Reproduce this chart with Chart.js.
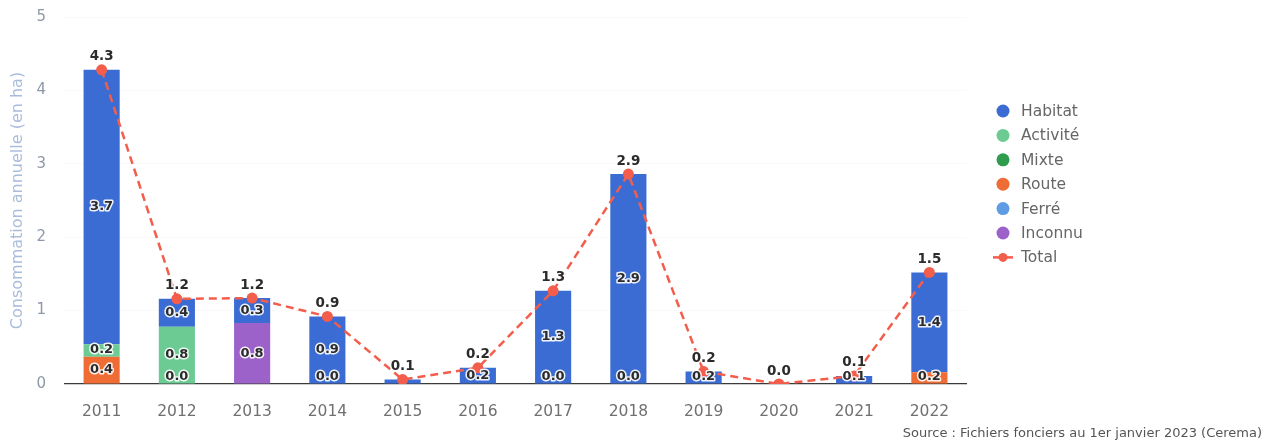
<!DOCTYPE html>
<html>
<head>
<meta charset="utf-8">
<script src="https://cdn.jsdelivr.net/npm/chart.js@4.4.0/dist/chart.umd.min.js"></script>
<style>
html,body{margin:0;padding:0;background:#fff;}
#wrap{position:relative;width:1269px;height:443px;}
</style>
</head>
<body>
<div id="wrap"><canvas id="c" width="1269" height="443"></canvas></div>
<script>
const years = ["2011","2012","2013","2014","2015","2016","2017","2018","2019","2020","2021","2022"];
const habitat  = [3.74, 0.38, 0.34, 0.92, 0.06, 0.22, 1.27, 2.86, 0.17, null, 0.11, 1.36];
const activite = [0.17, 0.78, null, null, null, null, null, null, null, null, null, null];
const mixte    = [null, null, null, null, null, null, null, null, null, null, null, null];
const route    = [0.37, 0, null, 0, null, null, 0, 0, null, null, null, 0.16];
const ferre    = [null, null, null, null, null, null, null, null, null, null, null, null];
const inconnu  = [null, null, 0.83, null, null, null, null, null, null, null, null, null];
const totals   = [4.28, 1.16, 1.17, 0.92, 0.06, 0.22, 1.27, 2.86, 0.17, 0, 0.11, 1.52];
const yTicks   = [0, 1, 2, 3, 4, 5];

const COLORS = {
  Habitat: '#3b6cd3', 'Activité': '#6ccb93', Mixte: '#2f9b4c', Route: '#ef6d35',
  'Ferré': '#5e9de4', Inconnu: '#9c62c9', Total: '#f35d4c'
};
const FONT = "'DejaVu Sans', sans-serif";

function barDs(label, data) {
  return { type: 'bar', label, data, backgroundColor: COLORS[label], stack: 's',
    categoryPercentage: 1, barPercentage: 0.48, order: 2, borderWidth: 0 };
}

const datasets = [
  barDs('Route', route),
  barDs('Inconnu', inconnu),
  barDs('Activité', activite),
  barDs('Mixte', mixte),
  barDs('Ferré', ferre),
  barDs('Habitat', habitat),
  { type: 'line', label: 'Total', data: totals, borderColor: COLORS.Total, backgroundColor: COLORS.Total,
    borderDash: [8, 5], borderWidth: 2.5, pointRadius: 5.5, pointHoverRadius: 5.5, pointBorderWidth: 0,
    tension: 0, order: 1 }
];

function outlinedText(ctx, txt, x, y, font) {
  ctx.font = font;
  ctx.textAlign = 'center';
  ctx.textBaseline = 'middle';
  ctx.lineJoin = 'round';
  ctx.lineWidth = 3;
  ctx.strokeStyle = 'rgba(255,255,255,0.9)';
  ctx.strokeText(txt, x, y);
  ctx.fillStyle = '#2b2b2b';
  ctx.fillText(txt, x, y);
}

const labelsPlugin = {
  id: 'labels',
  afterDatasetsDraw(chart) {
    const ctx = chart.ctx;
    ctx.save();
    chart.data.datasets.forEach((ds, di) => {
      const meta = chart.getDatasetMeta(di);
      if (ds.type === 'bar') {
        meta.data.forEach((el, i) => {
          const v = ds.data[i];
          if (v === null || v === undefined) return;
          if (!(v === 0 || v >= 0.1)) return;
          let cy = (el.y + el.base) / 2;
          cy = Math.min(cy, el.base - 7);
          outlinedText(ctx, v.toFixed(1), el.x, cy, "bold 13px " + FONT);
        });
      } else {
        meta.data.forEach((el, i) => {
          const v = ds.data[i];
          outlinedText(ctx, v.toFixed(1), el.x, el.y - 13, "bold 13.5px " + FONT);
        });
      }
    });
    ctx.restore();
  }
};

const legendPlugin = {
  id: 'customLegend',
  afterDraw(chart) {
    const ctx = chart.ctx;
    ctx.save();
    const items = ['Habitat', 'Activité', 'Mixte', 'Route', 'Ferré', 'Inconnu', 'Total'];
    const x0 = 1003, y0 = 111, dy = 24.4;
    items.forEach((name, k) => {
      const y = y0 + k * dy;
      ctx.fillStyle = COLORS[name];
      if (name === 'Total') {
        ctx.strokeStyle = COLORS[name];
        ctx.lineWidth = 2.5;
        ctx.beginPath(); ctx.moveTo(993, y); ctx.lineTo(1013, y); ctx.stroke();
        ctx.beginPath(); ctx.arc(x0, y, 4.5, 0, Math.PI * 2); ctx.fill();
      } else {
        ctx.beginPath(); ctx.arc(x0, y, 6.5, 0, Math.PI * 2); ctx.fill();
      }
      ctx.fillStyle = '#666';
      ctx.font = "15.5px " + FONT;
      ctx.textAlign = 'left';
      ctx.textBaseline = 'middle';
      ctx.fillText(name, 1021, y + 1);
    });
    ctx.font = "13px " + FONT;
    ctx.fillStyle = '#555';
    ctx.textAlign = 'right';
    ctx.textBaseline = 'middle';
    ctx.fillText('Source : Fichiers fonciers au 1er janvier 2023 (Cerema)', 1262, 434);
    ctx.restore();
  }
};

new Chart(document.getElementById('c'), {
  data: { labels: years, datasets },
  options: {
    responsive: false,
    animation: false,
    events: [],
    layout: { padding: { top: 17, right: 302, left: 0, bottom: 0 } },
    plugins: { legend: { display: false }, tooltip: { enabled: false } },
    scales: {
      x: {
        stacked: true,
        grid: { display: false, drawTicks: false },
        border: { display: false },
        ticks: { color: '#707070', font: { family: FONT, size: 15.5 }, padding: 19 },
        afterFit(s) { s.height = 59; s.paddingLeft = 0; s.paddingRight = 0; }
      },
      y: {
        stacked: true,
        min: 0, max: 5,
        afterBuildTicks(s) { s.ticks = yTicks.map(v => ({ value: v })); },
        grid: {
          drawTicks: false,
          color: c => c.tick && c.tick.value === 0 ? '#3a3a3a' : 'rgba(0,0,0,0.025)',
          lineWidth: c => c.tick && c.tick.value === 0 ? 1.2 : 1
        },
        border: { display: false },
        ticks: { color: '#8f98a8', font: { family: FONT, size: 15 }, padding: 18 },
        title: { display: true, text: 'Consommation annuelle (en ha)', color: '#a9bddb',
          font: { family: FONT, size: 16 }, padding: { top: 8, bottom: 0 } },
        afterFit(s) { s.width = 64; s.paddingTop = 0; s.paddingBottom = 0; }
      }
    }
  },
  plugins: [labelsPlugin, legendPlugin]
});
</script>
</body>
</html>
